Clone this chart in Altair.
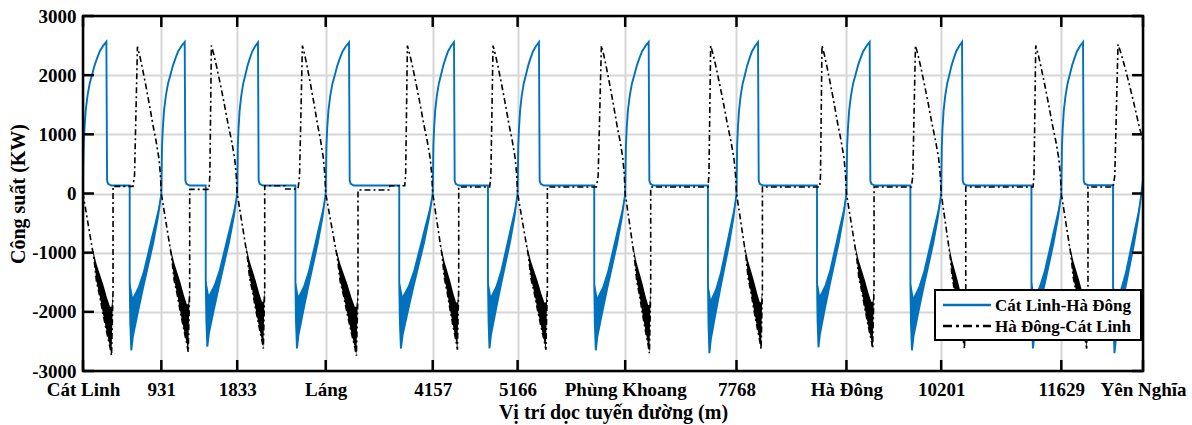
import altair as alt
import pandas as pd

# ---------------- values ----------------
STATION_M = [0, 931, 1833, 2885, 4157, 5166, 6445, 7768, 9075, 10201, 11629, 12600]
STATION_LABELS = ["Cát Linh", "931", "1833", "Láng", "4157", "5166", "Phùng Khoang",
                  "7768", "Hà Đông", "10201", "11629", "Yên Nghĩa"]
Y_TICKS = [-3000, -2000, -1000, 0, 1000, 2000, 3000]
SERIES = ["Cát Linh-Hà Đông", "Hà Đông-Cát Linh"]

# Cát Linh-Hà Đông (blue), one entry per inter-station run
BLUE_START_KW = 330
BLUE_PEAK_M = [278, 1209, 2080, 3162, 4410, 5420, 6724, 8024, 9351, 10449, 11887]
BLUE_PEAK_KW = [2565, 2560, 2555, 2555, 2560, 2560, 2560, 2560, 2560, 2560, 2560]
BLUE_COAST_KW = [135, 135, 135, 135, 135, 135, 135, 135, 135, 135, 140]
BLUE_BRAKE_M = [555, 1459, 2525, 3759, 4814, 6077, 7429, 8725, 9835, 11274, 12244]
BLUE_MIN_KW = [-2650, -2590, -2620, -2620, -2620, -2650, -2700, -2600, -2650, -2620, -2700]
BLUE_STOP_M = [931, 1833, 2885, 4157, 5166, 6445, 7768, 9075, 10201, 11629, 12580]
BLUE_END_M = 12600
BLUE_END_KW = 230

# shapes read from the runs (fraction of phase length -> kW)
BLUE_ACC_FRAC = [0, 0.03, 0.064, 0.116, 0.193, 0.288, 0.386, 0.502, 0.6, 0.717, 0.858, 1.0]
BLUE_ACC_KW = [0, 800, 1100, 1400, 1650, 1860, 2000, 2170, 2280, 2400, 2490, 2560]
BLUE_DROP_DM = [8, 20]
BLUE_DROP_KW = [220, 165]
BLUE_COAST_DM = 59
BLUE_BRK_FRAC = [0.0, 0.02, 0.05, 0.10, 0.26, 0.42, 0.58, 0.74, 0.89, 1.0]
BLUE_BRK_HI = [-1500, -1520, -1600, -1750, -1580, -1320, -960, -600, -270, 0]
BLUE_BRK_LO = [-1500, -2200, -2650, -2420, -2000, -1600, -1220, -840, -410, 0]

# Hà Đông-Cát Linh (black dash-dot), one entry per inter-station run
BLACK_START_KW = 250
BLACK_JUMP_M = [357, 1268, 2160, 3269, 4466, 5520, 6748, 8076, 9403, 10493, 11946]
BLACK_MIN_KW = [-2740, -2680, -2620, -2740, -2640, -2640, -2700, -2630, -2620, -2620, -2620]
BLACK_COAST_KW = [120, 70, 130, 60, 110, 110, 110, 110, 110, 110, 110]
BLACK_STEP_M = [None, None, 2398, 3646, None, None, None, None, None, None, None]
BLACK_STEP_KW = [None, None, 75, 130, None, None, None, None, None, None, None]
BLACK_RISE_M = [594, 1498, 2556, 3824, 4834, 6103, 7429, 8757, 9847, 11293, 12244]
BLACK_PEAK_M = [647, 1526, 2608, 3856, 4874, 6162, 7461, 8784, 9895, 11325, 12303]
BLACK_PEAK_KW = [2480, 2500, 2500, 2500, 2500, 2500, 2500, 2500, 2500, 2500, 2520]
BLACK_END_M = [931, 1833, 2885, 4157, 5166, 6445, 7768, 9075, 10201, 11629, 12680]

BLACK_BRK_FRAC = [0, 0.30, 0.36, 0.45, 0.56, 0.67, 0.80, 0.90, 0.95, 1.0]
BLACK_BRK_HI = [0, -900, -1000, -1180, -1350, -1520, -1750, -1900, -1900, -1650]
BLACK_BRK_LO = [0, -900, -1080, -1480, -1730, -2030, -2350, -2580, -2720, -1650]
BLACK_RISE_FRAC = [0.35]
BLACK_RISE_KW = [300]
BLACK_ACC_FRAC = [0, 0.1, 0.2, 0.35, 0.5, 0.65, 0.78, 0.9, 0.96, 1.0]
BLACK_ACC_KW = [2510, 2350, 2160, 1850, 1520, 1170, 900, 600, 330, 0]

# ---------------- build tables ----------------
blue_pts, blue_band = [], []
for i in range(len(BLUE_PEAK_M)):
    s, pk = STATION_M[i], BLUE_PEAK_M[i]
    ps = BLUE_PEAK_KW[i] / BLUE_ACC_KW[-1]
    for f, kw in zip(BLUE_ACC_FRAC, BLUE_ACC_KW):
        if f == 0:
            if i == 0:
                blue_pts.append((s, BLUE_START_KW))
            continue
        blue_pts.append((s + f * (pk - s), kw * ps))
    for dm, kw in zip(BLUE_DROP_DM, BLUE_DROP_KW):
        blue_pts.append((pk + dm, kw))
    blue_pts.append((pk + BLUE_COAST_DM, BLUE_COAST_KW[i]))
    b, e = BLUE_BRAKE_M[i], BLUE_STOP_M[i]
    blue_pts.append((b, BLUE_COAST_KW[i]))
    sc = BLUE_MIN_KW[i] / min(BLUE_BRK_LO)
    for f, hi, lo in zip(BLUE_BRK_FRAC, BLUE_BRK_HI, BLUE_BRK_LO):
        x = b + f * (e - b)
        blue_band.append({"x": x, "lo": lo * sc, "hi": hi * sc, "seg": i})
        blue_pts.append((x, hi * sc if f == 0 else lo * sc))
blue_pts.append((BLUE_END_M, BLUE_END_KW))

black_pts, black_band = [(0, BLACK_START_KW)], []
for i in range(len(BLACK_JUMP_M)):
    s, j = STATION_M[i], BLACK_JUMP_M[i]
    sc = BLACK_MIN_KW[i] / min(BLACK_BRK_LO)
    for f, hi, lo in zip(BLACK_BRK_FRAC, BLACK_BRK_HI, BLACK_BRK_LO):
        x = s + f * (j - s)
        black_band.append({"x": x, "lo": lo * sc, "hi": hi * sc, "seg": i})
        black_pts.append((x, lo * sc if f < 1 else hi * sc))
    level = BLACK_COAST_KW[i]
    black_pts.append((j, level))
    if BLACK_STEP_M[i] is not None:
        black_pts.append((BLACK_STEP_M[i], level))
        level = BLACK_STEP_KW[i]
        black_pts.append((BLACK_STEP_M[i], level))
    r, p, e = BLACK_RISE_M[i], BLACK_PEAK_M[i], BLACK_END_M[i]
    black_pts.append((r, level))
    for f, kw in zip(BLACK_RISE_FRAC, BLACK_RISE_KW):
        black_pts.append((r + f * (p - r), kw))
    ps = BLACK_PEAK_KW[i] / BLACK_ACC_KW[0]
    for f, kw in zip(BLACK_ACC_FRAC, BLACK_ACC_KW):
        black_pts.append((p + f * (e - p), kw * ps))

df_blue = pd.DataFrame([{"x": x, "y": y, "o": k} for k, (x, y) in enumerate(blue_pts)])
df_black = pd.DataFrame([{"x": x, "y": y, "o": k} for k, (x, y) in enumerate(black_pts)])
df_blue_band = pd.DataFrame(blue_band)
df_black_band = pd.DataFrame(black_band)
df_st = pd.DataFrame({"x": STATION_M})
df_yt = pd.DataFrame({"y": Y_TICKS})

# ---------------- chart ----------------
W, H = 1060, 355
FONT = "Liberation Serif"
BLUE = "#0072BD"
XS = alt.Scale(domain=[STATION_M[0], STATION_M[-1]], nice=False, zero=False)
YS = alt.Scale(domain=[Y_TICKS[0], Y_TICKS[-1]], nice=False)

label_expr = "".join(f"datum.value == {m} ? '{lab}' : " for m, lab in zip(STATION_M, STATION_LABELS)) + "datum.label"

x_axis = alt.Axis(values=STATION_M, format="d", labelExpr=label_expr, title="Vị trí dọc tuyến đường (m)",
                  grid=True, gridColor="#d6d6d6", gridWidth=2, ticks=False, domain=False,
                  labelFont=FONT, labelFontWeight="bold", labelFontSize=19, labelColor="black",
                  labelPadding=9, labelFlush=False, labelOverlap=False,
                  titleFont=FONT, titleFontWeight="bold", titleFontSize=20, titleColor="black",
                  titleBaseline="alphabetic", titleY=47)
y_axis = alt.Axis(values=Y_TICKS, labelExpr="'' + datum.value", title="Công suất (KW)",
                  grid=True, gridColor="#d6d6d6", gridWidth=2, ticks=False, domain=False,
                  labelFont=FONT, labelFontWeight="bold", labelFontSize=19, labelColor="black",
                  labelPadding=7, labelOverlap=False,
                  titleFont=FONT, titleFontWeight="bold", titleFontSize=20, titleColor="black",
                  titleBaseline="alphabetic", titleX=-59, titleY=H / 2)


def X(field):
    return alt.X(field, scale=XS, axis=x_axis)


def Y(field):
    return alt.Y(field, scale=YS, axis=y_axis)


band_blue = alt.Chart(df_blue_band).mark_area(color=BLUE, clip=True).encode(
    x=X("x:Q"), y=Y("lo:Q"), y2="hi:Q", detail="seg:N")
line_blue = alt.Chart(df_blue).mark_line(color=BLUE, strokeWidth=1.9, clip=True).encode(
    x=X("x:Q"), y=Y("y:Q"), order="o:Q")
band_black = alt.Chart(df_black_band).mark_area(color="black", clip=True).encode(
    x=X("x:Q"), y=Y("lo:Q"), y2="hi:Q", detail="seg:N")
line_black = alt.Chart(df_black).mark_line(color="black", strokeWidth=1.6, strokeDash=[6, 3, 2, 3], clip=True).encode(
    x=X("x:Q"), y=Y("y:Q"), order="o:Q")

TICK = 11
tick_style = dict(color="black", strokeWidth=2.5)
xt_top = alt.Chart(df_st).mark_rule(**tick_style).encode(
    x=X("x:Q"), y=alt.value(0), y2=alt.value(TICK))
xt_bot = alt.Chart(df_st).mark_rule(**tick_style).encode(
    x=X("x:Q"), y=alt.value(H), y2=alt.value(H - TICK))
yt_left = alt.Chart(df_yt).mark_rule(**tick_style).encode(
    y=Y("y:Q"), x=alt.value(0), x2=alt.value(TICK))
yt_right = alt.Chart(df_yt).mark_rule(**tick_style).encode(
    y=Y("y:Q"), x=alt.value(W), x2=alt.value(W - TICK))

one = pd.DataFrame({"k": [0]})
frame = alt.Chart(one).mark_rect(filled=False, stroke="black", strokeWidth=2.5).encode(
    x=alt.value(0), x2=alt.value(W), y=alt.value(0), y2=alt.value(H))

# legend box in the lower right corner of the plot
LX0, LX1, LY0, LY1 = 852, 1058, 274, 324
ROW1, ROW2 = 289, 310
leg_box = alt.Chart(one).mark_rect(fill="white", stroke="black", strokeWidth=2).encode(
    x=alt.value(LX0), x2=alt.value(LX1), y=alt.value(LY0), y2=alt.value(LY1))
leg_l1 = alt.Chart(one).mark_rule(color=BLUE, strokeWidth=2.5).encode(
    x=alt.value(860), x2=alt.value(908), y=alt.value(ROW1))
leg_l2 = alt.Chart(one).mark_rule(color="black", strokeWidth=2.5, strokeDash=[9, 4, 3, 4]).encode(
    x=alt.value(860), x2=alt.value(908), y=alt.value(ROW2))
leg_t1 = alt.Chart(pd.DataFrame({"t": [SERIES[0]]})).mark_text(
    align="left", baseline="middle", font=FONT, fontWeight="bold", fontSize=17, color="black").encode(
    text="t:N", x=alt.value(912), y=alt.value(ROW1 + 1))
leg_t2 = alt.Chart(pd.DataFrame({"t": [SERIES[1]]})).mark_text(
    align="left", baseline="middle", font=FONT, fontWeight="bold", fontSize=17, color="black").encode(
    text="t:N", x=alt.value(912), y=alt.value(ROW2 + 1))

chart = alt.layer(
    band_blue, line_blue, band_black, line_black,
    xt_top, xt_bot, yt_left, yt_right, frame,
    leg_box, leg_l1, leg_l2, leg_t1, leg_t2,
).properties(
    width=W, height=H,
    autosize=alt.AutoSizeParams(type="none"),
    padding={"left": 83, "top": 16, "right": 49, "bottom": 54},
    background="white",
).configure_view(stroke=None)

chart.save("out.html", embed_options={"renderer": "svg", "actions": False})
